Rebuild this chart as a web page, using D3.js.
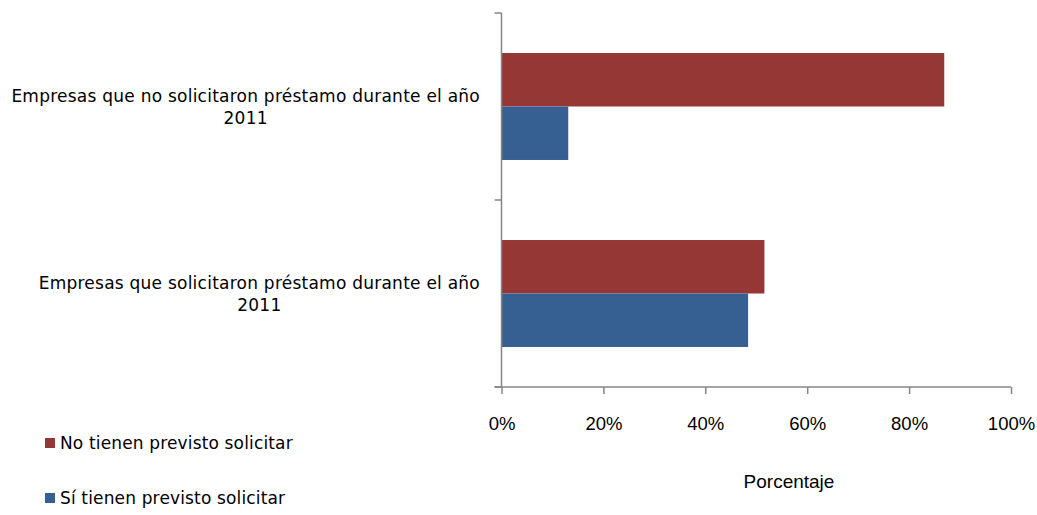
<!DOCTYPE html>
<html><head><meta charset="utf-8">
<script src="https://cdn.jsdelivr.net/npm/d3@7"></script>
<style>body{margin:0;background:#fff}text{fill:#000}</style>
</head><body><svg id="c" width="1037" height="515"></svg>
<script>
const categories = [
  ["Empresas que no solicitaron préstamo durante el año", "2011"],
  ["Empresas que solicitaron préstamo durante el año", "2011"]
];
const seriesNames = ["No tienen previsto solicitar", "Sí tienen previsto solicitar"];
const noValues = [86.9, 51.6];
const siValues = [13.1, 48.4];
const xTicks = [0, 20, 40, 60, 80, 100];
const colors = ["#953735", "#376092"];
const axisTitle = "Porcentaje";

const labelFont = '"DejaVu Sans",Verdana,sans-serif';
const tickFont = '"Liberation Sans",Arial,sans-serif';

const svg = d3.select("#c");
const L = 501.5, R = 1011, T = 13, B = 387;
const x = d3.scaleLinear().domain([0, 100]).range([L, R]);
const y = d3.scaleBand().domain(d3.range(categories.length)).range([T, B]).paddingInner(0.428).paddingOuter(0.214);
const ySub = d3.scaleBand().domain([0, 1]).range([0, y.bandwidth()]);
const axisCol = "#868686";

// bars
const data = categories.map((c, i) => ({i, vals: [noValues[i], siValues[i]]}));
const g = svg.append("g");
data.forEach(d => {
  d.vals.forEach((v, s) => {
    g.append("rect").attr("x", x(0)).attr("y", y(d.i) + ySub(s))
      .attr("width", x(v) - x(0)).attr("height", ySub.bandwidth()).attr("fill", colors[s]);
  });
});

// y axis
svg.append("line").attr("x1", L).attr("x2", L).attr("y1", T).attr("y2", B).attr("stroke", axisCol).attr("stroke-width", 1.5);
const boundaries = [T, (T + B) / 2, B];
boundaries.forEach(b => svg.append("line").attr("x1", L - 7).attr("x2", L).attr("y1", b).attr("y2", b).attr("stroke", axisCol).attr("stroke-width", 1.5));

// x axis
const xa = svg.append("g").attr("transform", `translate(0,${B})`)
  .call(d3.axisBottom(x).tickValues(xTicks).tickFormat(d => d + "%").tickSize(7).tickPadding(23));
xa.select(".domain").attr("stroke", axisCol).attr("stroke-width", 1.5).attr("d", `M${L - 7},0H${R}`);
xa.selectAll(".tick line").attr("stroke", axisCol).attr("stroke-width", 1.5);
xa.selectAll(".tick text").style("font-size", "18.5px").style("font-family", tickFont).attr("fill", "#111");

// category labels
categories.forEach((lines, i) => {
  const cy = y(i) + y.bandwidth() / 2;
  const t = svg.append("text").style("font-size", "17px").style("font-family", labelFont)
    .style("letter-spacing", "0.24px").attr("fill", "#111");
  const spans = lines.map((ln, k) => t.append("tspan").text(ln));
  const w = d3.max(spans, s => s.node().getComputedTextLength());
  const cx = 480 - w / 2;
  spans.forEach((s, k) => s.attr("x", cx).attr("text-anchor", "middle").attr("y", cy + (k - (lines.length - 1) / 2) * 22 + 6));
});

// axis title
svg.append("text").attr("x", 789).attr("y", 488).attr("text-anchor", "middle")
  .style("font-size", "19px").style("font-family", tickFont).attr("fill", "#111").text(axisTitle);

// legend
const legY = [443, 498];
seriesNames.forEach((n, s) => {
  svg.append("rect").attr("x", 45).attr("y", legY[s] - 5).attr("width", 10).attr("height", 10).attr("fill", colors[s]);
  svg.append("text").attr("x", 60).attr("y", legY[s] + 6).style("font-size", "17px").style("font-family", labelFont)
    .style("letter-spacing", "0.15px").attr("fill", "#111").text(n);
});
</script></body></html>
